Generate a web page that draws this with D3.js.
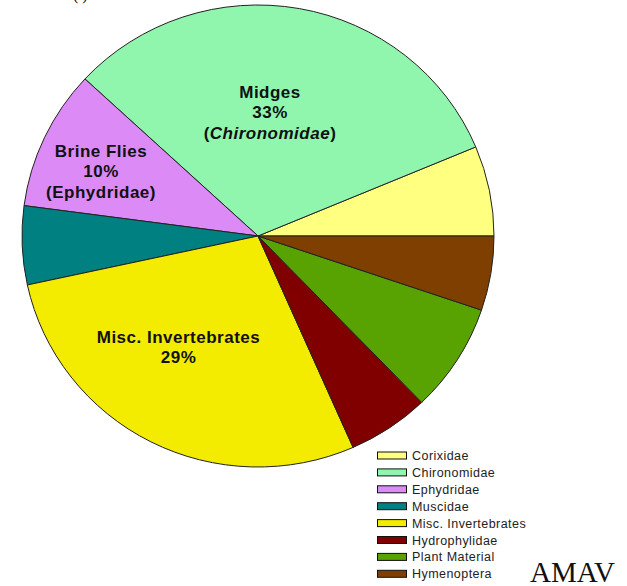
<!DOCTYPE html>
<html>
<head>
<meta charset="utf-8">
<script src="https://cdn.jsdelivr.net/npm/d3@7"></script>
<style>
  html, body { margin: 0; padding: 0; background: #fff; }
  svg { display: block; }
  text { font-family: "Liberation Sans", Arial, sans-serif; }
</style>
</head>
<body>
<div id="chart"></div>
<script>
var WIDTH = 627;
var HEIGHT = 586;

// slices, counterclockwise from 3 o'clock
var categories = ["Corixidae", "Chironomidae", "Ephydridae", "Muscidae",
                  "Misc. Invertebrates", "Hydrophylidae", "Plant Material", "Hymenoptera"];
var shares = [6.3, 31.8, 9.8, 5.5, 28.2, 5.6, 7.6, 5.2];
var colors = ["#ffff80", "#90f6ae", "#dc8af6", "#008080",
              "#f3eb00", "#800000", "#58a202", "#7f3f00"];

// in-slice labels
var labelLines = [
    [],
    [["Midges"], ["33%"], ["(", "Chironomidae", ")"]],
    [["Brine Flies"], ["10%"], ["(Ephydridae)"]],
    [],
    [["Misc. Invertebrates"], ["29%"]],
    [], [], []
];

function init() {
    var svg = d3.select("#chart").append("svg")
        .attr("width", WIDTH)
        .attr("height", HEIGHT);

    svg.append("rect").attr("width", WIDTH).attr("height", HEIGHT).attr("fill", "#fff");

    // stray clipped text at the very top
    svg.append("text")
        .attr("x", 73).attr("y", 0)
        .style("font-family", "'Liberation Serif', serif")
        .style("font-size", "16px")
        .text("( )");

    var cx = 258, cy = 236, rx = 236, ry = 231;

    var pie = d3.pie()
        .sort(null)
        .startAngle(Math.PI / 2)
        .endAngle(Math.PI / 2 - 2 * Math.PI);

    var arc = d3.arc().innerRadius(0).outerRadius(rx);

    var data = pie(shares.map((v, i) => ({ value: v, i: i })).map(d => d.value))
        .map((d, i) => Object.assign(d, { i: i }));

    var g = svg.append("g")
        .attr("transform", `translate(${cx},${cy}) scale(1,${ry / rx})`);

    g.selectAll("path")
        .data(data)
      .enter().append("path")
        .attr("d", arc)
        .attr("fill", d => colors[d.i])
        .attr("stroke", "#222")
        .attr("stroke-width", 1)
        .attr("vector-effect", "non-scaling-stroke");

    // label anchors (first baseline), in page pixels
    var labelAnchor = { 1: [270, 98], 2: [101, 157], 4: [178.5, 342.5] };
    var lineGap = 20.3;

    Object.keys(labelAnchor).forEach(k => {
        var pos = labelAnchor[k];
        labelLines[k].forEach((parts, j) => {
            var t = svg.append("text")
                .attr("x", pos[0])
                .attr("y", pos[1] + j * lineGap)
                .attr("text-anchor", "middle")
                .style("font-size", "17px")
                .style("font-weight", "bold")
                .style("letter-spacing", "0.5px")
                .attr("fill", "#111");
            parts.forEach((p, m) => {
                var ts = t.append("tspan").text(p);
                if (parts.length === 3 && m === 1) ts.style("font-style", "italic");
            });
        });
    });

    // legend
    var rowY = d3.scaleBand()
        .domain(categories)
        .range([447.5, 447.5 + categories.length * 16.9]);

    var legend = svg.append("g");
    var rows = legend.selectAll("g")
        .data(categories)
      .enter().append("g")
        .attr("transform", d => `translate(0,${rowY(d)})`);

    rows.append("rect")
        .attr("x", 377.5).attr("y", 4.5)
        .attr("width", 29).attr("height", 7)
        .attr("fill", (d, i) => colors[i])
        .attr("stroke", "#111")
        .attr("stroke-width", 1);

    rows.append("text")
        .attr("x", 412)
        .attr("y", 12.5)
        .style("font-size", "12.5px")
        .style("letter-spacing", "0.45px")
        .attr("fill", "#222")
        .text(d => d);

    svg.append("text")
        .attr("x", 530).attr("y", 581.5)
        .style("font-family", "'Liberation Serif', 'Times New Roman', serif")
        .style("font-size", "29px")
        .attr("fill", "#111")
        .text("AMAV");
}

init();
</script>
</body>
</html>
